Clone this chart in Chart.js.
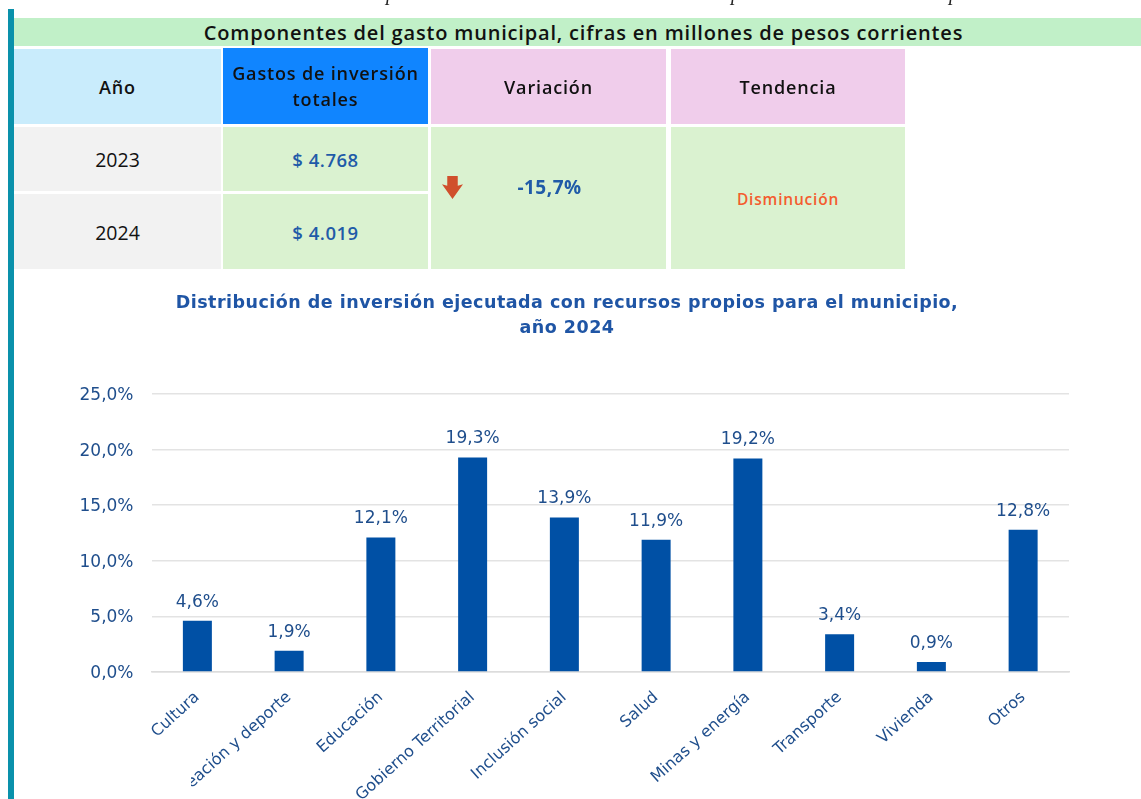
<!DOCTYPE html>
<html lang="es"><head><meta charset="utf-8">
<script src="https://cdn.jsdelivr.net/npm/chart.js@4/dist/chart.umd.min.js"></script>
<style>
html,body{margin:0;padding:0;background:#fff;width:1141px;height:799px;overflow:hidden}
.b{position:absolute;display:flex;align-items:center;justify-content:center;text-align:center;font-family:"Open Sans",sans-serif;color:#111;box-sizing:border-box}
.h{font-weight:600;font-size:18px;letter-spacing:.85px}
.y{font-size:19.5px}
.v{font-size:18.5px;font-weight:600;color:#1f5ba8;letter-spacing:.5px}
canvas{position:absolute;left:0;top:0}
</style></head><body>
<canvas id="c" width="1141" height="799"></canvas>
<div style="position:absolute;left:15px;top:745px;width:176px;height:54px;background:#fff"></div>
<div style="position:absolute;left:8px;top:9px;width:6px;height:790px;background:#0a91ab"></div>
<span style="position:absolute;left:386px;top:-18px;font:italic 20px 'Liberation Serif';color:#222">p</span>
<span style="position:absolute;left:731px;top:-18px;font:italic 20px 'Liberation Serif';color:#222">p</span>
<span style="position:absolute;left:949px;top:-18px;font:italic 20px 'Liberation Serif';color:#222">p</span>
<div class="b" style="left:14px;top:18px;width:1127px;height:28px;background:#c1f0c8;font-weight:600;font-size:20px;letter-spacing:.82px;padding-left:12px">Componentes del gasto municipal, cifras en millones de pesos corrientes</div>
<div class="b h" style="left:14px;top:49px;width:207px;height:75px;background:#c9ecfc">Año</div>
<div class="b h" style="left:223px;top:48px;width:205px;height:76px;background:#1085ff;line-height:26px">Gastos de inversión<br>totales</div>
<div class="b h" style="left:431px;top:49px;width:235px;height:75px;background:#f0cdeb">Variación</div>
<div class="b h" style="left:671px;top:49px;width:234px;height:75px;background:#f0cdeb">Tendencia</div>
<div class="b y" style="left:14px;top:127px;width:207px;height:64px;background:#f2f2f2">2023</div>
<div class="b y" style="left:14px;top:194px;width:207px;height:75px;background:#f2f2f2;padding-top:2px">2024</div>
<div class="b v" style="left:223px;top:127px;width:205px;height:64px;background:#daf2d0">$ 4.768</div>
<div class="b v" style="left:223px;top:194px;width:205px;height:75px;background:#daf2d0;padding-top:2px">$ 4.019</div>
<div class="b" style="left:431px;top:127px;width:235px;height:142px;background:#daf2d0"></div>
<div class="b v" style="left:432px;top:176px;width:235px;height:21px;font-size:19px;font-weight:700">-15,7%</div>
<div style="position:absolute;left:442px;top:176px;width:21px;height:23px;background:#d0502c;clip-path:polygon(25% 0,75% 0,75% 42%,100% 36%,50% 100%,0 36%,25% 42%)"></div>
<div class="b" style="left:671px;top:127px;width:234px;height:142px;background:#daf2d0;font-size:15.5px;font-weight:600;letter-spacing:.8px;padding-top:2px;color:#f45c2e">Disminución</div>
<div class="b" style="left:100px;top:289px;width:934px;height:52px;font-family:'DejaVu Sans';font-weight:700;font-size:17.5px;letter-spacing:.48px;line-height:25px;color:#1f55a5">Distribución de inversión ejecutada con recursos propios para el municipio,<br>año 2024</div>
<script>
const categories=["Cultura","Recreación y deporte","Educación","Gobierno Territorial","Inclusión social","Salud","Minas y energía","Transporte","Vivienda","Otros"];
const values=[4.6,1.9,12.1,19.3,13.9,11.9,19.2,3.4,0.9,12.8];
const yTicks=[0,5,10,15,20,25];
const fmt=v=>v.toFixed(1).replace('.',',')+'%';
const TXT='#1f4e8c';
const labels={id:'labels',afterDatasetsDraw(ch){
  const c=ch.ctx,m=ch.getDatasetMeta(0);
  c.save();c.font='17px "DejaVu Sans"';c.fillStyle=TXT;c.textAlign='center';c.textBaseline='bottom';
  m.data.forEach((b,i)=>c.fillText(fmt(values[i]),b.x,b.y-10));
  c.restore();
}};
new Chart(document.getElementById('c'),{type:'bar',plugins:[labels],
 data:{labels:categories,datasets:[{data:values,backgroundColor:'#0050a5',barPercentage:.316,categoryPercentage:1}]},
 options:{responsive:false,animation:false,
  layout:{padding:{top:394,right:72,left:0,bottom:0}},
  plugins:{legend:{display:false},tooltip:{enabled:false}},
  scales:{
   y:{min:0,max:25,afterFit:s=>{s.width=151.5},afterBuildTicks:s=>{s.ticks=yTicks.map(v=>({value:v}))},
      grid:{color:'#e3e3e3',lineWidth:1.5,drawTicks:false},border:{display:false},
      ticks:{padding:18,labelOffset:1.5,color:TXT,font:{family:'DejaVu Sans',size:17},callback:v=>fmt(v)}},
   x:{afterFit:s=>{s.height=127},grid:{display:false},border:{color:'#dcdcdc',width:1.5},
      ticks:{minRotation:42,maxRotation:42,padding:8,color:TXT,autoSkip:false,font:{family:'DejaVu Sans',size:16}}}
  }}});
</script>
</body></html>
